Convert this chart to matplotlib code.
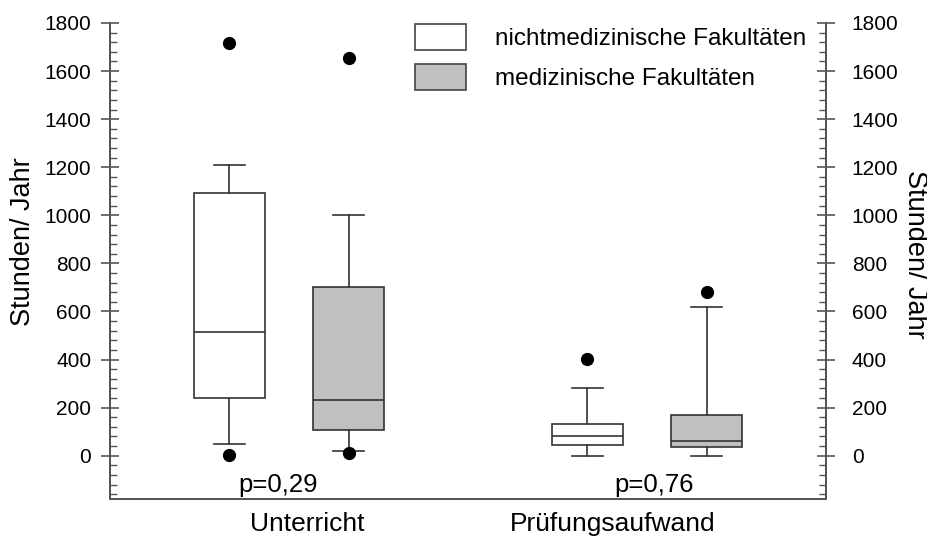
import matplotlib
matplotlib.use('Agg')
import matplotlib.pyplot as plt
from matplotlib.patches import Patch
from matplotlib.ticker import MultipleLocator

plt.rcParams['font.family'] = ['Liberation Sans', 'DejaVu Sans']

# Box statistics (Stunden/Jahr)
labels = ['nichtmedizinische Fakultäten', 'medizinische Fakultäten']
categories = ['Unterricht', 'Prüfungsaufwand']
p_values = ['p=0,29', 'p=0,76']
positions = [1, 2, 4, 5]
q1 = [242, 105, 44, 35]
med = [513, 232, 84, 61]
q3 = [1092, 700, 134, 169]
whislo = [50, 21, 0, 0]
whishi = [1210, 1003, 281, 617]
fliers = [[1716, 4], [1656, 11], [403], [682]]
fills = ['white', '#c0c0c0', 'white', '#c0c0c0']

stats = []
for i in range(len(positions)):
    stats.append(dict(q1=q1[i], med=med[i], q3=q3[i], whislo=whislo[i],
                      whishi=whishi[i], fliers=fliers[i]))

fig = plt.figure(figsize=(9.28, 5.38), dpi=100)
ax = fig.add_axes([110 / 928, 1 - 499 / 538, 716 / 928, 476 / 538])

edge = '#333333'
bp = ax.bxp(stats, positions=positions, widths=0.6, capwidths=0.26,
            patch_artist=True, showfliers=True,
            boxprops=dict(edgecolor=edge, linewidth=1.2),
            medianprops=dict(color=edge, linewidth=1.2),
            whiskerprops=dict(color=edge, linewidth=1.2),
            capprops=dict(color=edge, linewidth=1.2),
            flierprops=dict(marker='o', markerfacecolor='black',
                            markeredgecolor='black', markersize=8.5))
for patch, c in zip(bp['boxes'], fills):
    patch.set_facecolor(c)

ax.set_xlim(0, 6)
ax.set_ylim(-180, 1800)

# second y axis on the right, same scale
ax2 = ax.twinx()
ax2.set_ylim(-180, 1800)

spine_col = '#555555'
for a in (ax, ax2):
    a.spines['top'].set_visible(False)
    for s in ['left', 'right', 'bottom']:
        a.spines[s].set_color(spine_col)
        a.spines[s].set_linewidth(1.4)
    a.set_xticks([])
    a.yaxis.set_major_locator(MultipleLocator(200))
    a.yaxis.set_minor_locator(MultipleLocator(40))
    a.set_yticks(range(0, 1801, 200))

ax.tick_params(axis='y', which='major', direction='inout', length=13,
               width=1.2, color=spine_col, labelsize=15, pad=7,
               left=True, right=False, labelleft=True, labelright=False)
ax.tick_params(axis='y', which='minor', direction='in', length=5,
               width=1.0, color=spine_col, left=True, right=False)
ax2.tick_params(axis='y', which='major', direction='inout', length=13,
                width=1.2, color=spine_col, labelsize=15, pad=12,
                left=False, right=True, labelleft=False, labelright=True)
ax2.tick_params(axis='y', which='minor', direction='in', length=5,
                width=1.0, color=spine_col, left=False, right=True)

# category labels and p values
ax.text(1.65, -235, categories[0], ha='center', va='top', fontsize=19,
        clip_on=False)
ax.text(4.21, -235, categories[1], ha='center', va='top', fontsize=19,
        clip_on=False)
ax.text(1.41, -150, p_values[0], ha='center', va='baseline', fontsize=18.5)
ax.text(4.56, -150, p_values[1], ha='center', va='baseline', fontsize=18.5)

fig.text(23 / 928, 1 - 242 / 538, 'Stunden/ Jahr', rotation=90,
         ha='center', va='center', fontsize=19.5)
fig.text(915 / 928, 1 - 254 / 538, 'Stunden/ Jahr', rotation=-90,
         ha='center', va='center', fontsize=19.5)

handles = [Patch(facecolor=fills[0], edgecolor='#444444', linewidth=1.2),
           Patch(facecolor=fills[1], edgecolor='#444444', linewidth=1.2)]
ax2.legend(handles, labels, loc='upper left', bbox_to_anchor=(0.426, 0.998),
           frameon=False, fontsize=17.5, borderpad=0, borderaxespad=0,
           handlelength=2.1, handleheight=1.3, labelspacing=0.55,
           handletextpad=1.2)

fig.savefig('out.png', dpi=100)
